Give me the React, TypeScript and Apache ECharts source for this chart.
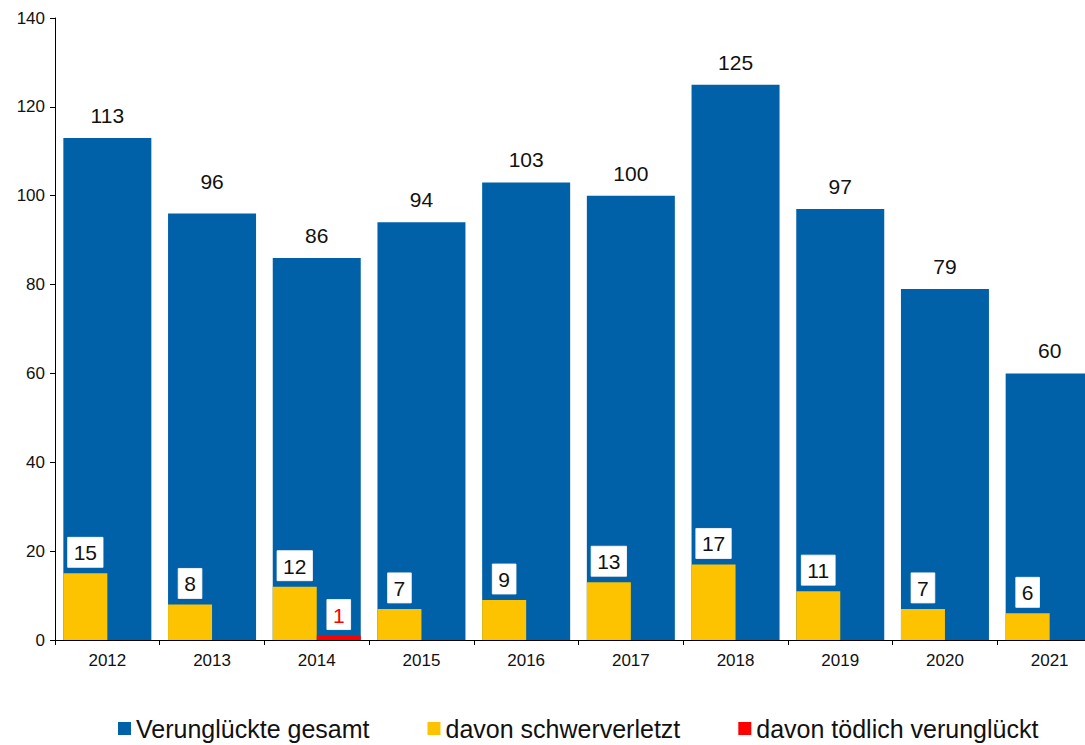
import React, { useEffect, useRef } from "react";
import * as echarts from "echarts";

const years = ["2012", "2013", "2014", "2015", "2016", "2017", "2018", "2019", "2020", "2021"];
const gesamt = [113, 96, 86, 94, 103, 100, 125, 97, 79, 60];
const schwer = [15, 8, 12, 7, 9, 13, 17, 11, 7, 6];
const toedlich = [null, null, 1, null, null, null, null, null, null, null];
const yTicks = { min: 0, max: 140, interval: 20 };

const FONT = "Liberation Sans, Arial, sans-serif";

export default function App() {
  const ref = useRef<HTMLDivElement>(null);
  useEffect(() => {
    if (!ref.current) return;
    const chart = echarts.init(ref.current, undefined, { renderer: "svg" });
    const boxLabel = (color: string) => ({
      show: true,
      position: "top",
      distance: 6,
      color,
      fontSize: 21,
      fontFamily: FONT,
      backgroundColor: "#fff",
      padding: [5, 6, 4, 6],
      borderColor: "#d8dde6",
      borderWidth: 0.5,
    });
    const gesamtData = gesamt.map((v, i) =>
      i === 1 ? { value: v, label: { distance: 21 } } : v
    );
    chart.setOption({
      animation: false,
      textStyle: { fontFamily: FONT },
      grid: { left: 55, right: 8, top: 18, bottom: 105, containLabel: false, outerBoundsMode: "none" },
      legend: {
        top: 711,
        left: 113,
        itemWidth: 13,
        itemHeight: 13,
        itemGap: 58,
        icon: "rect",
        textStyle: { fontSize: 25, color: "#111", fontFamily: FONT },
        data: ["Verunglückte gesamt", "davon schwerverletzt", "davon tödlich verunglückt"],
      },
      xAxis: [
        {
          type: "category",
          data: years,
          axisLine: { lineStyle: { color: "#000", width: 1 } },
          axisTick: { show: true, length: 5, alignWithLabel: false, lineStyle: { color: "#000" } },
          axisLabel: { fontSize: 17, color: "#111", margin: 12, fontFamily: FONT },
        },
        {
          type: "category",
          data: years,
          show: false,
          position: "bottom",
        },
      ],
      yAxis: {
        type: "value",
        min: yTicks.min,
        max: yTicks.max,
        interval: yTicks.interval,
        axisLine: { show: true, lineStyle: { color: "#000", width: 1 } },
        axisTick: { show: true, length: 5, lineStyle: { color: "#000" } },
        splitLine: { show: false },
        axisLabel: { fontSize: 17, color: "#111", margin: 10, fontFamily: FONT },
      },
      series: [
        {
          name: "Verunglückte gesamt",
          type: "bar",
          xAxisIndex: 0,
          data: gesamtData,
          barWidth: 88,
          itemStyle: { color: "#0061A8" },
          label: { show: true, position: "top", distance: 12, fontSize: 21, color: "#111", fontFamily: FONT },
          z: 1,
        },
        {
          name: "davon schwerverletzt",
          type: "bar",
          xAxisIndex: 1,
          data: schwer,
          barWidth: 44,
          barGap: "0%",
          itemStyle: { color: "#FDC300" },
          label: boxLabel("#111"),
          z: 3,
        },
        {
          name: "davon tödlich verunglückt",
          type: "bar",
          xAxisIndex: 1,
          data: toedlich,
          barWidth: 44,
          barGap: "0%",
          itemStyle: { color: "#FF0000" },
          label: boxLabel("#FF0000"),
          z: 3,
        },
      ],
    });
    return () => chart.dispose();
  }, []);
  return (
    <div
      style={{ position: "absolute", left: 0, top: 0, width: 1085, height: 745, overflow: "hidden", background: "#fff" }}
    >
      <div ref={ref} style={{ width: 1110, height: 745 }} />
    </div>
  );
}
